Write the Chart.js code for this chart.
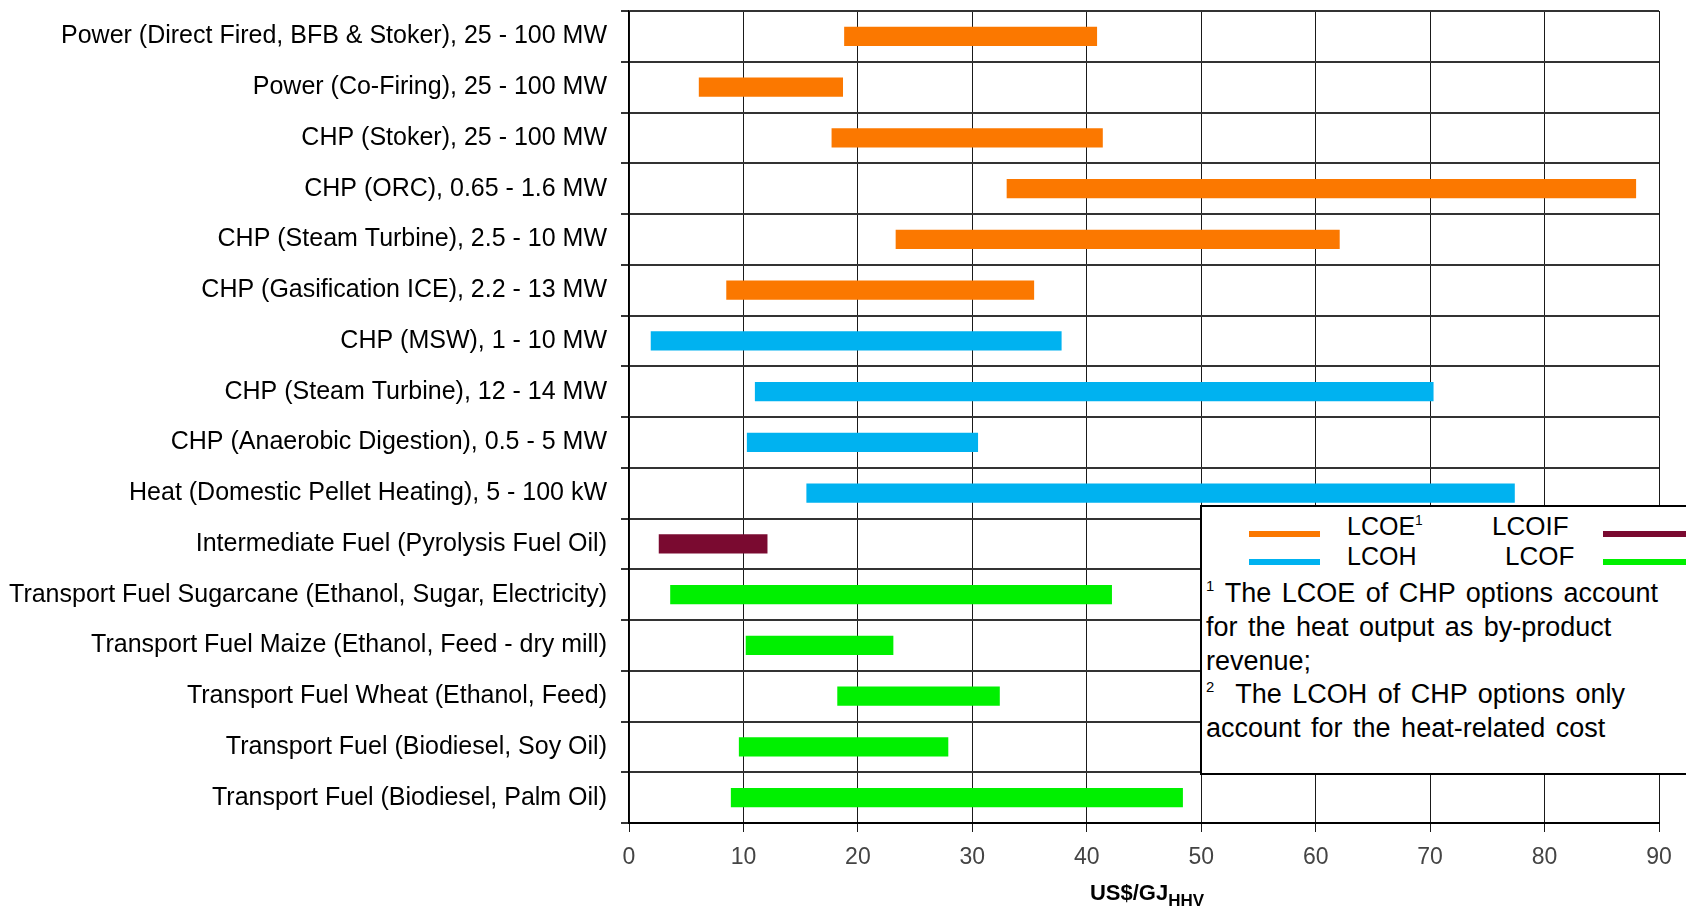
<!DOCTYPE html>
<html>
<head>
<meta charset="utf-8">
<script src="https://cdn.jsdelivr.net/npm/chart.js@4.4.1/dist/chart.umd.min.js"></script>
<style>
    body { margin: 0; background: #fff; overflow: hidden; }
    #wrap { position: relative; width: 1686px; height: 908px; }
    #legend { position: absolute; left: 1200px; top: 505px; width: 520px; height: 266px;
              border: 2px solid #000; background: #fff; font-family: 'Liberation Sans', Arial, sans-serif; color: #000; }
    #legend .t { position: absolute; white-space: nowrap; line-height: 1; }
    #legend .s { position: absolute; height: 6px; width: 71px; }
    #legend sup { font-size: 0.55em; vertical-align: 0.75em; line-height: 0; }
</style>
</head>
<body>
<div id="wrap">
    <canvas id="cost_chart"></canvas>
    <div id="legend"></div>
</div>
<script>
// rows, top to bottom
const categories = [
    'Power (Direct Fired, BFB & Stoker), 25 - 100 MW',
    'Power (Co-Firing), 25 - 100 MW',
    'CHP (Stoker), 25 - 100 MW',
    'CHP (ORC), 0.65 - 1.6 MW',
    'CHP (Steam Turbine), 2.5 - 10 MW',
    'CHP (Gasification ICE), 2.2 - 13 MW',
    'CHP (MSW), 1 - 10 MW',
    'CHP (Steam Turbine), 12 - 14 MW',
    'CHP (Anaerobic Digestion), 0.5 - 5 MW',
    'Heat (Domestic Pellet Heating), 5 - 100 kW',
    'Intermediate Fuel (Pyrolysis Fuel Oil)',
    'Transport Fuel Sugarcane (Ethanol, Sugar, Electricity)',
    'Transport Fuel Maize (Ethanol, Feed - dry mill)',
    'Transport Fuel Wheat (Ethanol, Feed)',
    'Transport Fuel (Biodiesel, Soy Oil)',
    'Transport Fuel (Biodiesel, Palm Oil)'
];
const lowCost  = [18.8, 6.1, 17.7, 33.0, 23.3, 8.5, 1.9, 11.0, 10.3, 15.5, 2.6, 3.6, 10.2, 18.2, 9.6, 8.9];
const highCost = [40.9, 18.7, 41.4, 88.0, 62.1, 35.4, 37.8, 70.3, 30.5, 77.4, 12.1, 42.2, 23.1, 32.4, 27.9, 48.4];
const costType = ['LCOE', 'LCOE', 'LCOE', 'LCOE', 'LCOE', 'LCOE', 'LCOH', 'LCOH', 'LCOH', 'LCOH',
                  'LCOIF', 'LCOF', 'LCOF', 'LCOF', 'LCOF', 'LCOF'];
const typeNames  = ['LCOE', 'LCOH', 'LCOIF', 'LCOF'];
const typeColors = ['#fb7800', '#00b2f0', '#7a0a30', '#00f000'];
const xMin = 0, xMax = 90, xStep = 10;
const footnotes = [
    ['1', ' The LCOE of CHP options account'],
    ['', 'for the heat output as by-product'],
    ['', 'revenue;'],
    ['2', '  The LCOH of CHP options only'],
    ['', 'account for the heat-related cost']
];

const FONT = "'Liberation Sans', Arial, sans-serif";
const colorOf = t => typeColors[typeNames.indexOf(t)];

// x axis title with subscript
const axisTitle = {
    id: 'axisTitle',
    afterDraw(chart) {
        const ctx = chart.ctx, area = chart.chartArea;
        ctx.save();
        ctx.fillStyle = '#000';
        ctx.textBaseline = 'alphabetic';
        ctx.font = 'bold 22px ' + FONT;
        const w1 = ctx.measureText('US$/GJ').width;
        ctx.font = 'bold 17px ' + FONT;
        const w2 = ctx.measureText('HHV').width;
        const x0 = (area.left + area.right) / 2 + 3 - (w1 + w2) / 2;
        ctx.font = 'bold 22px ' + FONT;
        ctx.fillText('US$/GJ', x0, 900);
        ctx.font = 'bold 17px ' + FONT;
        ctx.fillText('HHV', x0 + w1, 906);
        ctx.restore();
    }
};

const costElement = document.getElementById('cost_chart');
const costChart = new Chart(costElement, {
    type: 'bar',
    data: {
        labels: categories,
        datasets: [{
            data: lowCost.map((v, i) => [v, highCost[i]]),
            backgroundColor: costType.map(colorOf),
            borderWidth: 0,
            barPercentage: 0.38,
            categoryPercentage: 1
        }]
    },
    options: {
        indexAxis: 'y',
        responsive: true,
        maintainAspectRatio: false,
        animation: false,
        layout: { padding: { top: 11, right: 27, left: 0, bottom: 0 } },
        plugins: {
            legend: { display: false },
            tooltip: { enabled: false }
        },
        scales: {
            x: {
                type: 'linear',
                min: xMin,
                max: xMax,
                ticks: { stepSize: xStep, color: '#444', padding: 12, font: { family: FONT, size: 23 } },
                grid: { color: '#1a1a1a', lineWidth: 1, tickLength: 9 },
                border: { color: '#000', width: 2 },
                afterFit(scale) { scale.height = 85; }
            },
            y: {
                ticks: { color: '#000', padding: 14, font: { family: FONT, size: 25 } },
                grid: { color: '#333', lineWidth: 2, tickLength: 8, offset: true },
                border: { color: '#000', width: 1.5 },
                afterFit(scale) {
                    scale.width = 629;
                    scale.paddingTop = 0;
                    scale.paddingBottom = 0;
                }
            }
        }
    },
    plugins: [axisTitle]
});

// legend box with footnotes
const legendBox = document.getElementById('legend');
const boxLeft = 1200, boxTop = 505;
function addText(html, x, baseline, size, spacing) {
    const el = document.createElement('div');
    el.className = 't';
    el.style.fontSize = size + 'px';
    if (spacing) el.style.wordSpacing = spacing + 'px';
    el.style.left = (x - boxLeft - 2) + 'px';
    el.style.top = (baseline - 0.8465 * size - boxTop - 2) + 'px';
    el.innerHTML = html;
    legendBox.appendChild(el);
}
function addSample(color, x, y, w) {
    const el = document.createElement('div');
    el.className = 's';
    el.style.background = color;
    el.style.left = (x - boxLeft - 2) + 'px';
    el.style.top = (y - boxTop - 2) + 'px';
    el.style.width = w + 'px';
    legendBox.appendChild(el);
}
addSample(colorOf('LCOE'), 1249, 531, 71);
addText('LCOE<sup>1</sup>', 1347, 535, 25);
addText('LCOIF', 1492, 535, 26);
addSample(colorOf('LCOIF'), 1603, 531, 100);
addSample(colorOf('LCOH'), 1249, 559, 71);
addText('LCOH', 1347, 565, 25);
addText('LCOF', 1505, 565, 26);
addSample(colorOf('LCOF'), 1603, 559, 100);
footnotes.forEach((f, i) => {
    const sup = f[0] ? '<sup>' + f[0] + '</sup>' : '';
    addText(sup + f[1].replace(/^ +/, m => '&nbsp;'.repeat(m.length)), 1206, 603 + i * 33.7, 27, 3);
});
</script>
</body>
</html>
